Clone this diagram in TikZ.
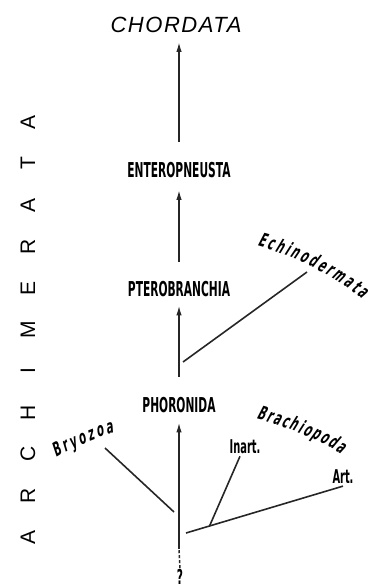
\documentclass[tikz,border=0pt]{standalone}
\usepackage{fontspec}
\setmainfont{DejaVu Sans}
\newfontfamily\condfont[FakeStretch=0.52]{DejaVu Sans}
\newfontfamily\conditfont[FakeStretch=0.55,FakeSlant=0.2]{DejaVu Sans}
\newfontfamily\headfont{Liberation Sans}
\newfontfamily\chordfont[LetterSpace=7]{Liberation Sans}
\usetikzlibrary{arrows.meta,decorations.text,calc}
\tikzset{
  grupo/.style={font=\condfont\bfseries\fontsize{20.5}{21}\selectfont, inner sep=0pt},
  subgrupo/.style={font=\condfont\bfseries\fontsize{19}{19}\selectfont, inner sep=2pt},
  flecha/.style={line width=1.6pt, draw=black!85, -{Latex[length=10pt,width=5.5pt]}},
  rama/.style={line width=1.6pt, draw=black!85},
  vertical/.style={font=\headfont\fontsize{21}{21}\selectfont, rotate=90, inner sep=0pt},
  curvo/.style={decorate, decoration={text along path, text align={fit to path}, text={|\conditfont\bfseries\fontsize{19}{19}\selectfont|#1}}}
}
\begin{document}
\begin{tikzpicture}[x=1pt, y=-1pt]
        \useasboundingbox (0,0) rectangle (374,588);
        % Grupos
        \node[font=\chordfont\itshape\fontsize{22}{22}\selectfont, inner sep=0pt] (chord) at (176,25) {CHORDATA};
        \node[grupo] (ent) at (179,170) {ENTEROPNEUSTA};
        \node[grupo] (ptero) at (179,289) {PTEROBRANCHIA};
        \node[grupo] (phor) at (179,405) {PHORONIDA};
        \node[grupo] (q) at (180,577) {?};
        % Tronco principal
        \coordinate (base) at (179,549);
        \draw[flecha, shorten <=20pt, shorten >=9pt] (ent.north) -- (ent.north |- chord.south);
        \draw[flecha, shorten <=19pt, shorten >=12pt] (ptero.north) -- (ent.south);
        \draw[flecha, shorten <=20.5pt, shorten >=8.5pt] (phor.north) -- (ptero.south);
        \draw[flecha, shorten >=9.5pt] (base) -- (phor.south);
        \draw[rama, dash pattern=on 3pt off 2pt, shorten <=1pt] (q.north) -- (base);
        % Ramas laterales
        \coordinate (bEchi) at (183,362);
        \coordinate (fEchi) at (307,272);
        \draw[rama] (bEchi) -- (fEchi);
        \coordinate (bBry) at (174,512);
        \coordinate (fBry) at (105,448);
        \draw[rama] (bBry) -- (fBry);
        \node[subgrupo] (art) at (343,477) {Art.};
        \node[subgrupo] (inart) at (245,447) {Inart.};
        \coordinate (bArt) at (186,533);
        \draw[rama] (bArt) -- (art.south);
        \coordinate (bInart) at ($(bArt)!0.15!(art.south)$);
        \draw[rama] (bInart) -- ([xshift=-5pt]inart.south);
        % Rotulos curvos
        \path[curvo=Echinodermata] (257,246) .. controls (290,255) and (328,272) .. (362,299);
        \path[curvo=Bryozoa] (56,458) .. controls (73,448) and (94,438) .. (114,433);
        \path[curvo=Brachiopoda] (256,419) .. controls (285,427) and (314,437) .. (341,454);
        % Archimerata
        \foreach \letra [count=\i] in {A,R,C,H,I,M,E,R,A,T,A}
          \node[vertical] (arq\i) at (28,{537-41.5*(\i-1)}) {\letra};
    \end{tikzpicture}
\end{document}
